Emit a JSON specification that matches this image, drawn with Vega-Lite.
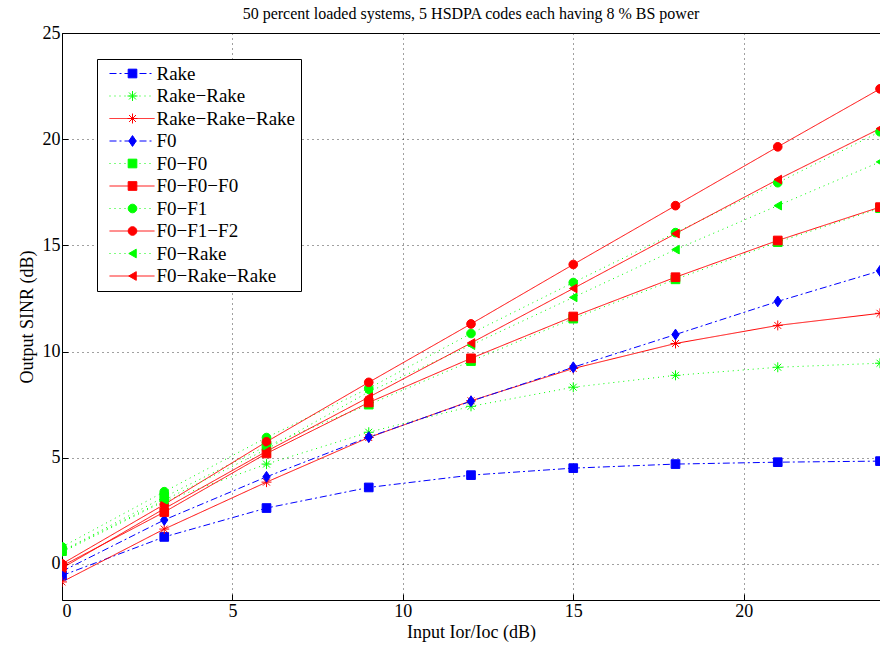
{
  "$schema": "https://vega.github.io/schema/vega-lite/v6.json",
  "width": 818,
  "height": 567,
  "autosize": {"type": "none"},
  "padding": {"left": 62, "top": 33, "right": 0, "bottom": 48},
  "title": {"text": "50 percent loaded systems, 5 HSDPA codes each having 8 % BS power", "font": "Liberation Serif", "fontSize": 16, "fontWeight": "normal", "color": "black", "anchor": "middle", "offset": 2},
  "config": {
    "view": {"stroke": "black", "strokeWidth": 1},
    "axis": {"labelFont": "Liberation Serif", "labelFontSize": 18, "labelColor": "black", "titleFont": "Liberation Serif", "titleFontSize": 18, "titleFontWeight": "normal", "titleColor": "black", "domain": false, "tickColor": "black", "tickSize": -6, "grid": true, "gridColor": "black", "gridDash": [1, 4], "gridOpacity": 0.75, "gridWidth": 1}
  },
  "data": {"values": [
    {"series": "Rake", "k": 1, "x": 0, "y": -0.55}, {"series": "Rake", "k": 1, "x": 3, "y": 1.27}, {"series": "Rake", "k": 1, "x": 6, "y": 2.63}, {"series": "Rake", "k": 1, "x": 9, "y": 3.6}, {"series": "Rake", "k": 1, "x": 12, "y": 4.18}, {"series": "Rake", "k": 1, "x": 15, "y": 4.51}, {"series": "Rake", "k": 1, "x": 18, "y": 4.7}, {"series": "Rake", "k": 1, "x": 21, "y": 4.79}, {"series": "Rake", "k": 1, "x": 24, "y": 4.84},
    {"series": "Rake−Rake", "k": 2, "x": 0, "y": 0.55}, {"series": "Rake−Rake", "k": 2, "x": 3, "y": 2.95}, {"series": "Rake−Rake", "k": 2, "x": 6, "y": 4.7}, {"series": "Rake−Rake", "k": 2, "x": 9, "y": 6.2}, {"series": "Rake−Rake", "k": 2, "x": 12, "y": 7.42}, {"series": "Rake−Rake", "k": 2, "x": 15, "y": 8.32}, {"series": "Rake−Rake", "k": 2, "x": 18, "y": 8.88}, {"series": "Rake−Rake", "k": 2, "x": 21, "y": 9.26}, {"series": "Rake−Rake", "k": 2, "x": 24, "y": 9.45},
    {"series": "Rake−Rake−Rake", "k": 3, "x": 0, "y": -0.85}, {"series": "Rake−Rake−Rake", "k": 3, "x": 3, "y": 1.64}, {"series": "Rake−Rake−Rake", "k": 3, "x": 6, "y": 3.85}, {"series": "Rake−Rake−Rake", "k": 3, "x": 9, "y": 5.95}, {"series": "Rake−Rake−Rake", "k": 3, "x": 12, "y": 7.68}, {"series": "Rake−Rake−Rake", "k": 3, "x": 15, "y": 9.2}, {"series": "Rake−Rake−Rake", "k": 3, "x": 18, "y": 10.38}, {"series": "Rake−Rake−Rake", "k": 3, "x": 21, "y": 11.23}, {"series": "Rake−Rake−Rake", "k": 3, "x": 24, "y": 11.8},
    {"series": "F0", "k": 4, "x": 0, "y": -0.35}, {"series": "F0", "k": 4, "x": 3, "y": 2.07}, {"series": "F0", "k": 4, "x": 6, "y": 4.1}, {"series": "F0", "k": 4, "x": 9, "y": 5.97}, {"series": "F0", "k": 4, "x": 12, "y": 7.66}, {"series": "F0", "k": 4, "x": 15, "y": 9.26}, {"series": "F0", "k": 4, "x": 18, "y": 10.8}, {"series": "F0", "k": 4, "x": 21, "y": 12.36}, {"series": "F0", "k": 4, "x": 24, "y": 13.8},
    {"series": "F0−F0", "k": 5, "x": 0, "y": 0.6}, {"series": "F0−F0", "k": 5, "x": 3, "y": 3.15}, {"series": "F0−F0", "k": 5, "x": 6, "y": 5.55}, {"series": "F0−F0", "k": 5, "x": 9, "y": 7.5}, {"series": "F0−F0", "k": 5, "x": 12, "y": 9.55}, {"series": "F0−F0", "k": 5, "x": 15, "y": 11.55}, {"series": "F0−F0", "k": 5, "x": 18, "y": 13.4}, {"series": "F0−F0", "k": 5, "x": 21, "y": 15.15}, {"series": "F0−F0", "k": 5, "x": 24, "y": 16.75},
    {"series": "F0−F0−F0", "k": 6, "x": 0, "y": -0.1}, {"series": "F0−F0−F0", "k": 6, "x": 3, "y": 2.44}, {"series": "F0−F0−F0", "k": 6, "x": 6, "y": 5.2}, {"series": "F0−F0−F0", "k": 6, "x": 9, "y": 7.6}, {"series": "F0−F0−F0", "k": 6, "x": 12, "y": 9.68}, {"series": "F0−F0−F0", "k": 6, "x": 15, "y": 11.65}, {"series": "F0−F0−F0", "k": 6, "x": 18, "y": 13.5}, {"series": "F0−F0−F0", "k": 6, "x": 21, "y": 15.23}, {"series": "F0−F0−F0", "k": 6, "x": 24, "y": 16.8},
    {"series": "F0−F1", "k": 7, "x": 0, "y": 0.8}, {"series": "F0−F1", "k": 7, "x": 3, "y": 3.4}, {"series": "F0−F1", "k": 7, "x": 6, "y": 5.95}, {"series": "F0−F1", "k": 7, "x": 9, "y": 8.27}, {"series": "F0−F1", "k": 7, "x": 12, "y": 10.85}, {"series": "F0−F1", "k": 7, "x": 15, "y": 13.25}, {"series": "F0−F1", "k": 7, "x": 18, "y": 15.6}, {"series": "F0−F1", "k": 7, "x": 21, "y": 17.95}, {"series": "F0−F1", "k": 7, "x": 24, "y": 20.35},
    {"series": "F0−F1−F2", "k": 8, "x": 0, "y": 0.0}, {"series": "F0−F1−F2", "k": 8, "x": 3, "y": 2.8}, {"series": "F0−F1−F2", "k": 8, "x": 6, "y": 5.75}, {"series": "F0−F1−F2", "k": 8, "x": 9, "y": 8.55}, {"series": "F0−F1−F2", "k": 8, "x": 12, "y": 11.3}, {"series": "F0−F1−F2", "k": 8, "x": 15, "y": 14.1}, {"series": "F0−F1−F2", "k": 8, "x": 18, "y": 16.87}, {"series": "F0−F1−F2", "k": 8, "x": 21, "y": 19.64}, {"series": "F0−F1−F2", "k": 8, "x": 24, "y": 22.37},
    {"series": "F0−Rake", "k": 9, "x": 0, "y": 0.6}, {"series": "F0−Rake", "k": 9, "x": 3, "y": 3.0}, {"series": "F0−Rake", "k": 9, "x": 6, "y": 5.4}, {"series": "F0−Rake", "k": 9, "x": 9, "y": 8.1}, {"series": "F0−Rake", "k": 9, "x": 12, "y": 10.3}, {"series": "F0−Rake", "k": 9, "x": 15, "y": 12.55}, {"series": "F0−Rake", "k": 9, "x": 18, "y": 14.8}, {"series": "F0−Rake", "k": 9, "x": 21, "y": 16.87}, {"series": "F0−Rake", "k": 9, "x": 24, "y": 18.93},
    {"series": "F0−Rake−Rake", "k": 10, "x": 0, "y": -0.2}, {"series": "F0−Rake−Rake", "k": 10, "x": 3, "y": 2.6}, {"series": "F0−Rake−Rake", "k": 10, "x": 6, "y": 5.3}, {"series": "F0−Rake−Rake", "k": 10, "x": 9, "y": 7.85}, {"series": "F0−Rake−Rake", "k": 10, "x": 12, "y": 10.4}, {"series": "F0−Rake−Rake", "k": 10, "x": 15, "y": 12.97}, {"series": "F0−Rake−Rake", "k": 10, "x": 18, "y": 15.55}, {"series": "F0−Rake−Rake", "k": 10, "x": 21, "y": 18.1}, {"series": "F0−Rake−Rake", "k": 10, "x": 24, "y": 20.5}
  ]},
  "encoding": {
    "x": {"field": "x", "type": "quantitative", "scale": {"domain": [0, 24], "nice": false, "zero": false}, "axis": {"values": [0, 5, 10, 15, 20], "title": "Input Ior/Ioc (dB)", "labelPadding": 8, "titlePadding": 3}},
    "y": {"field": "y", "type": "quantitative", "scale": {"domain": [-1.7, 25], "nice": false, "zero": false}, "axis": {"values": [0, 5, 10, 15, 20, 25], "title": "Output SINR (dB)", "labelPadding": 8, "titlePadding": 6}}
  },
  "layer": [
    {
      "mark": {"type": "line", "strokeWidth": 1, "clip": true},
      "encoding": {
        "color": {"field": "series", "type": "nominal",
          "scale": {"domain": ["Rake", "Rake−Rake", "Rake−Rake−Rake", "F0", "F0−F0", "F0−F0−F0", "F0−F1", "F0−F1−F2", "F0−Rake", "F0−Rake−Rake"],
                    "range": ["#0000ff", "#00ff00", "#ff0000", "#0000ff", "#00ff00", "#ff0000", "#00ff00", "#ff0000", "#00ff00", "#ff0000"]},
          "legend": {"orient": "none", "legendX": 35, "legendY": 26, "title": null, "symbolType": "M-4.5,0L4.5,0", "symbolSize": 100, "symbolStrokeWidth": 1, "labelFont": "Liberation Serif", "labelFontSize": 19, "labelColor": "black", "labelOffset": 15, "labelLimit": 400, "padding": 5, "rowPadding": 2.5, "symbolOffset": 20.5, "strokeColor": "black", "fillColor": "white"}},
        "strokeDash": {"field": "series", "type": "nominal",
          "scale": {"domain": ["Rake", "Rake−Rake", "Rake−Rake−Rake", "F0", "F0−F0", "F0−F0−F0", "F0−F1", "F0−F1−F2", "F0−Rake", "F0−Rake−Rake"],
                    "range": [[7, 3, 2, 3], [1, 4], [1, 0], [7, 3, 2, 3], [1, 4], [1, 0], [1, 4], [1, 0], [1, 4], [1, 0]]}}
      }
    },
    {
      "mark": {"type": "point", "size": 75, "opacity": 1, "strokeWidth": 1, "clip": true},
      "encoding": {
        "fill": {"field": "k", "type": "ordinal",
          "scale": {"range": ["#0000ff", "#00ff00", "#ff0000", "#0000ff", "#00ff00", "#ff0000", "#00ff00", "#ff0000", "#00ff00", "#ff0000"]},
          "legend": {"orient": "none", "legendX": 56, "legendY": 26, "title": null, "labelFont": "Liberation Serif", "labelFontSize": 19, "labelExpr": "' '", "labelOffset": 8, "padding": 5, "rowPadding": 2.5, "symbolSize": 75, "symbolStrokeWidth": 1}},
        "stroke": {"field": "k", "type": "ordinal",
          "scale": {"range": ["#0000ff", "#00ff00", "#ff0000", "#0000ff", "#00ff00", "#ff0000", "#00ff00", "#ff0000", "#00ff00", "#ff0000"]}},
        "shape": {"field": "k", "type": "ordinal",
          "scale": {"range": ["square", "M-1.15,0L1.15,0M0,-1.15L0,1.15M-0.8,-0.8L0.8,0.8M-0.8,0.8L0.8,-0.8", "M-1.15,0L1.15,0M0,-1.15L0,1.15M-0.8,-0.8L0.8,0.8M-0.8,0.8L0.8,-0.8", "M0,-1.25L0.85,0L0,1.25L-0.85,0Z", "square", "square", "circle", "circle", "triangle-left", "triangle-left"]}}
      }
    }
  ]
}
